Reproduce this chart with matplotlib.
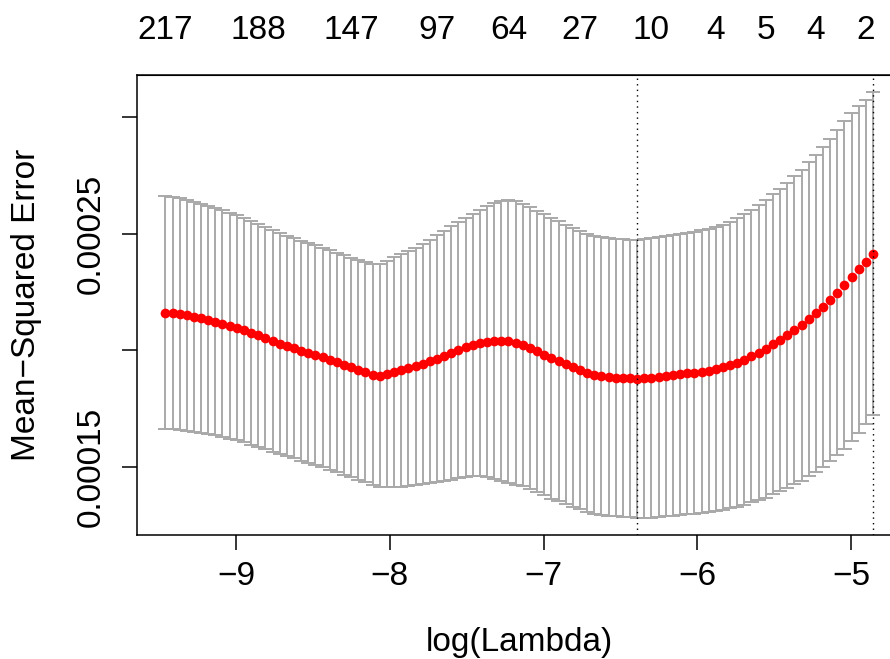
import matplotlib
matplotlib.use("Agg")
import matplotlib.pyplot as plt
import numpy as np

# cross-validation curve (cv.glmnet style), MSE values in units of 1e-4
log_lambda = [
    -9.461, -9.414, -9.368, -9.321, -9.275, -9.228, -9.182, -9.135, -9.089, -9.042,
    -8.996, -8.949, -8.903, -8.856, -8.810, -8.763, -8.717, -8.670, -8.624, -8.577,
    -8.531, -8.484, -8.438, -8.391, -8.345, -8.298, -8.252, -8.205, -8.159, -8.112,
    -8.066, -8.019, -7.973, -7.926, -7.880, -7.833, -7.787, -7.740, -7.694, -7.647,
    -7.601, -7.554, -7.508, -7.461, -7.415, -7.368, -7.322, -7.275, -7.229, -7.182,
    -7.136, -7.089, -7.043, -6.996, -6.950, -6.903, -6.857, -6.810, -6.764, -6.717,
    -6.671, -6.624, -6.578, -6.531, -6.485, -6.438, -6.392, -6.345, -6.299, -6.252,
    -6.206, -6.159, -6.113, -6.066, -6.020, -5.973, -5.927, -5.880, -5.834, -5.787,
    -5.741, -5.694, -5.648, -5.601, -5.555, -5.508, -5.462, -5.415, -5.369, -5.322,
    -5.276, -5.229, -5.183, -5.136, -5.090, -5.043, -4.997, -4.950, -4.904, -4.857,
]
cvm_e4 = [
    2.1622, 2.1597, 2.1554, 2.1511, 2.1451, 2.1382, 2.1309, 2.1236, 2.1150, 2.1064,
    2.0978, 2.0871, 2.0760, 2.0644, 2.0524, 2.0408, 2.0296, 2.0189, 2.0086, 1.9987,
    1.9893, 1.9798, 1.9700, 1.9592, 1.9485, 1.9378, 1.9270, 1.9163, 1.9064, 1.8957,
    1.8906, 1.8991, 1.9069, 1.9142, 1.9227, 1.9313, 1.9421, 1.9536, 1.9652, 1.9764,
    1.9884, 2.0009, 2.0129, 2.0236, 2.0322, 2.0373, 2.0399, 2.0408, 2.0386, 2.0322,
    2.0236, 2.0107, 1.9957, 1.9807, 1.9665, 1.9528, 1.9399, 1.9279, 1.9163, 1.9043,
    1.8957, 1.8893, 1.8854, 1.8833, 1.8820, 1.8803, 1.8790, 1.8798, 1.8820, 1.8850,
    1.8897, 1.8940, 1.8983, 1.9017, 1.9047, 1.9086, 1.9129, 1.9193, 1.9270, 1.9365,
    1.9481, 1.9609, 1.9751, 1.9901, 2.0073, 2.0257, 2.0442, 2.0652, 2.0867, 2.1090,
    2.1330, 2.1588, 2.1867, 2.2159, 2.2476, 2.2811, 2.3146, 2.3476, 2.3811, 2.4154,
]
cvsd_e4 = [
    0.5000, 0.4987, 0.4970, 0.4953, 0.4936, 0.4918, 0.4901, 0.4884, 0.4867, 0.4850,
    0.4833, 0.4815, 0.4798, 0.4781, 0.4768, 0.4755, 0.4742, 0.4730, 0.4721, 0.4721,
    0.4721, 0.4712, 0.4708, 0.4704, 0.4704, 0.4708, 0.4712, 0.4721, 0.4730, 0.4742,
    0.4785, 0.4850, 0.4927, 0.4991, 0.5043, 0.5099, 0.5159, 0.5223, 0.5300, 0.5378,
    0.5438, 0.5494, 0.5562, 0.5631, 0.5717, 0.5807, 0.5910, 0.6009, 0.6060, 0.6086,
    0.6064, 0.6043, 0.6034, 0.6030, 0.6021, 0.6009, 0.6000, 0.5991, 0.5978, 0.5966,
    0.5961, 0.5957, 0.5957, 0.5957, 0.5957, 0.5957, 0.5966, 0.5978, 0.5996, 0.6009,
    0.6017, 0.6026, 0.6034, 0.6043, 0.6051, 0.6064, 0.6077, 0.6094, 0.6120, 0.6150,
    0.6189, 0.6227, 0.6270, 0.6322, 0.6386, 0.6438, 0.6493, 0.6545, 0.6618, 0.6674,
    0.6738, 0.6794, 0.6867, 0.6918, 0.6983, 0.7030, 0.7047, 0.7017, 0.6961, 0.6923,
]

# number of nonzero coefficients shown along the top
nz_at = [-9.461, -8.856, -8.252, -7.694, -7.229, -6.764, -6.299, -5.880, -5.555, -5.229, -4.904]
nz_labels = ["217", "188", "147", "97", "64", "27", "10", "4", "5", "4", "2"]

lambda_min = -6.392
lambda_1se = -4.857

xtick_values = [-9, -8, -7, -6, -5]
ytick_values = [1.5e-4, 2.0e-4, 2.5e-4, 3.0e-4]
ytick_labels = ["0.00015", "", "0.00025", ""]

plt.rcParams["font.family"] = ["Liberation Sans", "DejaVu Sans"]
plt.rcParams["font.size"] = 24


def padded(lo, hi, frac=0.04):
    # same 4% range extension R uses for its axes
    d = (hi - lo) * frac
    return lo - d, hi + d


x = np.array(log_lambda)
cvm = np.array(cvm_e4) * 1e-4
cvsd = np.array(cvsd_e4) * 1e-4
cvup = cvm + cvsd
cvlo = cvm - cvsd

fig = plt.figure(figsize=(8.9, 6.59), dpi=100)
ax = fig.add_axes([0.1539, 0.1886, 0.8589, 0.6970])
ax.set_xlim(*padded(x.min(), x.max()))
ax.set_ylim(*padded(cvlo.min(), cvup.max()))

# error bars
grey = "#A9A9A9"
barw = 0.01 * (x.max() - x.min())
ax.vlines(x, cvlo, cvup, color=grey, lw=1.4)
ax.hlines(cvup, x - barw, x + barw, color=grey, lw=1.4)
ax.hlines(cvlo, x - barw, x + barw, color=grey, lw=1.4)

ax.plot(x, cvm, "o", color="red", ms=7, mec="none", zorder=3)

for v in (lambda_min, lambda_1se):
    ax.axvline(v, color="black", lw=1.0, ls=(0, (1, 3)), zorder=4)

ax.set_xticks(xtick_values)
ax.set_yticks(ytick_values)
ax.set_yticklabels(ytick_labels, rotation=90, va="center")
ax.tick_params(direction="out", length=10.8, width=1.1, colors="black")
ax.tick_params(axis="x", pad=8)
ax.tick_params(axis="y", pad=11)
for s in ax.spines.values():
    s.set_linewidth(1.1)

top = ax.secondary_xaxis("top")
top.set_xticks(nz_at, nz_labels)
top.tick_params(length=0, pad=21)

ax.set_xlabel("log(Lambda)", va="center")
ax.xaxis.set_label_coords(0.5, -0.2336)
ax.set_ylabel("Mean\u2212Squared Error", va="center")
ax.yaxis.set_label_coords(-0.1439, 0.5)

fig.savefig("out.png", dpi=100)
